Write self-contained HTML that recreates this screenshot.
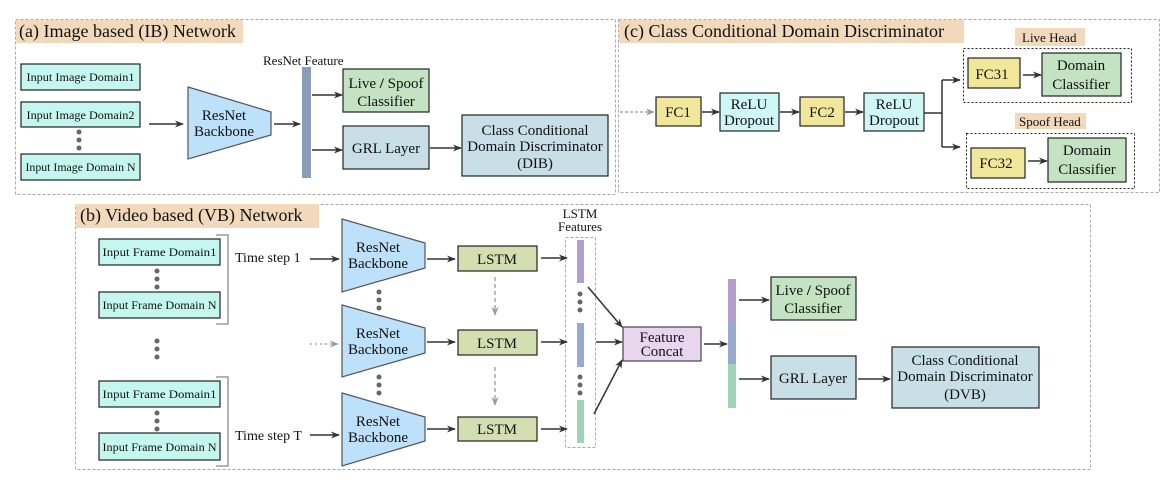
<!DOCTYPE html>
<html><head><meta charset="utf-8"><style>
html,body{margin:0;padding:0;background:#fff;}
svg{display:block;font-family:"Liberation Serif",serif;}
</style></head><body>
<svg width="1167" height="486" viewBox="0 0 1167 486" xmlns="http://www.w3.org/2000/svg">
<defs>
<marker id="a" viewBox="0 0 10 10" refX="9" refY="5" markerWidth="9" markerHeight="9" markerUnits="userSpaceOnUse" orient="auto"><path d="M0,1 L10,5 L0,9 L3,5 Z" fill="#333"/></marker>
<marker id="g" viewBox="0 0 10 10" refX="9" refY="5" markerWidth="9" markerHeight="9" markerUnits="userSpaceOnUse" orient="auto"><path d="M0,1 L10,5 L0,9 L3,5 Z" fill="#999"/></marker>
</defs>
<g stroke="#aaa" stroke-dasharray="3,2" fill="none" stroke-width="1">
<rect x="15.5" y="19.5" width="600" height="175"/>
<rect x="618.5" y="19.5" width="541" height="173"/>
<rect x="75.5" y="204.5" width="1015" height="265"/>
</g>
<g fill="#f2d9bc">
<rect x="16" y="20" width="227" height="23"/>
<rect x="619" y="20" width="345" height="23"/>
<rect x="76" y="204" width="243" height="24"/>
<rect x="1015" y="28" width="70" height="18"/>
<rect x="1015" y="113" width="71" height="16"/>
</g>
<g font-size="18" fill="#111">
<text x="19" y="37">(a) Image based (IB) Network</text>
<text x="624" y="37">(c) Class Conditional  Domain Discriminator</text>
<text x="80" y="221">(b) Video based (VB) Network</text>
</g>
<g font-size="13" fill="#111">
<text x="1022" y="42">Live Head</text>
<text x="1019" y="126">Spoof Head</text>
<text x="263" y="65" font-size="13">ResNet Feature</text>
<text x="580" y="218" text-anchor="middle">LSTM</text>
<text x="580" y="231" text-anchor="middle">Features</text>
<text x="235" y="262" font-size="14">Time step 1</text>
<text x="235" y="440" font-size="14">Time step T</text>
</g>
<!-- panel a -->
<g stroke="#222" stroke-width="1.2">
<rect x="21" y="64" width="119" height="26" fill="#c4f7ef"/>
<rect x="21" y="102" width="119" height="25" fill="#c4f7ef"/>
<rect x="21" y="154" width="119" height="26" fill="#c4f7ef"/>
<polygon points="188,87 271,112 271,135 188,159" fill="#bde0fb" stroke="#555"/>
<rect x="343" y="69" width="86" height="43" fill="#c3e3c3"/>
<rect x="343" y="126" width="86" height="43" fill="#c8dfe8"/>
<rect x="462" y="115" width="146" height="61" fill="#c8dfe8"/>
</g>
<rect x="302" y="67" width="9" height="111" fill="#8b9dba"/>
<g fill="#666"><circle cx="79" cy="132" r="2.5"/><circle cx="79" cy="140" r="2.5"/><circle cx="79" cy="148" r="2.5"/></g>
<g font-size="12" fill="#111" text-anchor="middle">
<text x="80.5" y="81" textLength="108" lengthAdjust="spacingAndGlyphs">Input Image Domain1</text>
<text x="80.5" y="119" textLength="108" lengthAdjust="spacingAndGlyphs">Input Image Domain2</text>
<text x="80.5" y="171" textLength="110" lengthAdjust="spacingAndGlyphs">Input Image Domain N</text>
</g>
<g font-size="15" fill="#111" text-anchor="middle">
<text x="224" y="120">ResNet</text><text x="224" y="136">Backbone</text>
<text x="386" y="88">Live <tspan font-weight="bold">/</tspan> Spoof</text><text x="386" y="106">Classifier</text>
<text x="386" y="153">GRL Layer</text>
<text x="535" y="135">Class Conditional</text><text x="535" y="151">Domain Discriminator</text><text x="535" y="168">(DIB)</text>
</g>
<g stroke="#333" stroke-width="1.5" marker-end="url(#a)">
<line x1="149" y1="124" x2="183" y2="124"/>
<line x1="274" y1="124" x2="300" y2="124"/>
<line x1="312" y1="95" x2="342" y2="95"/>
<line x1="312" y1="150" x2="342" y2="150"/>
<line x1="430" y1="148" x2="461" y2="148"/>
</g>
<!-- panel c -->
<g stroke="#222" stroke-width="1.2">
<rect x="656" y="97" width="45" height="29" fill="#f0e79a"/>
<rect x="720" y="93" width="59" height="38" fill="#cff7f7"/>
<rect x="800" y="97" width="44" height="29" fill="#f0e79a"/>
<rect x="864" y="93" width="60" height="38" fill="#cff7f7"/>
<rect x="968" y="58" width="52" height="30" fill="#f0e79a"/>
<rect x="1042" y="53" width="79" height="43" fill="#c3e3c3"/>
<rect x="971" y="148" width="54" height="30" fill="#f0e79a"/>
<rect x="1048" y="138" width="78" height="44" fill="#c3e3c3"/>
</g>
<g stroke="#222" stroke-dasharray="2,2" fill="none">
<rect x="963.5" y="48.5" width="168" height="54"/>
<rect x="966.5" y="133.5" width="168" height="55"/>
</g>
<g font-size="15" fill="#111" text-anchor="middle">
<text x="678" y="117">FC1</text><text x="822" y="117">FC2</text>
<text x="749" y="109">ReLU</text><text x="749" y="125">Dropout</text>
<text x="894" y="109">ReLU</text><text x="894" y="125">Dropout</text>
<text x="992" y="79">FC31</text><text x="996" y="168">FC32</text>
<text x="1081" y="70">Domain</text><text x="1081" y="89">Classifier</text>
<text x="1087" y="155">Domain</text><text x="1087" y="174">Classifier</text>
</g>
<line x1="620" y1="112" x2="654" y2="112" stroke="#999" stroke-width="1.2" stroke-dasharray="3,2" marker-end="url(#g)"/>
<g stroke="#333" stroke-width="1.5" fill="none">
<line x1="702" y1="112" x2="719" y2="112" marker-end="url(#a)"/>
<line x1="780" y1="112" x2="799" y2="112" marker-end="url(#a)"/>
<line x1="845" y1="112" x2="863" y2="112" marker-end="url(#a)"/>
<polyline points="924,113 942,113"/>
<line x1="942" y1="80" x2="942" y2="147"/>
<line x1="942" y1="80" x2="960" y2="80" marker-end="url(#a)"/>
<line x1="942" y1="147" x2="960" y2="147" marker-end="url(#a)"/>
<line x1="1023" y1="75" x2="1041" y2="75" marker-end="url(#a)"/>
<line x1="1028" y1="161" x2="1047" y2="161" marker-end="url(#a)"/>
</g>
<!-- panel b -->
<g stroke="#222" stroke-width="1.2">
<rect x="99" y="239" width="121" height="26" fill="#c4f7ef"/>
<rect x="99" y="292" width="121" height="26" fill="#c4f7ef"/>
<rect x="99" y="381" width="121" height="26" fill="#c4f7ef"/>
<rect x="99" y="433" width="121" height="27" fill="#c4f7ef"/>
<polygon points="342,219 425,243 425,268 342,292" fill="#bde0fb" stroke="#555"/>
<polygon points="342,305 425,328 425,353 342,377" fill="#bde0fb" stroke="#555"/>
<polygon points="342,393 425,417 425,441 342,466" fill="#bde0fb" stroke="#555"/>
<rect x="458" y="246" width="79" height="25" fill="#d3dfb0"/>
<rect x="458" y="330" width="79" height="25" fill="#d3dfb0"/>
<rect x="458" y="417" width="79" height="24" fill="#d3dfb0"/>
<rect x="623" y="327" width="78" height="34" fill="#e8d6ee" stroke="#444"/>
<rect x="771" y="277" width="85" height="43" fill="#c3e3c3"/>
<rect x="771" y="356" width="85" height="43" fill="#c8dfe8"/>
<rect x="892" y="347" width="147" height="61" fill="#c8dfe8"/>
</g>
<g stroke="#888" fill="none" stroke-width="1.3">
<polyline points="216,235 228,235 228,324 216,324"/>
<polyline points="216,377 228,377 228,466 216,466"/>
</g>
<rect x="565.5" y="237.5" width="30" height="210" fill="none" stroke="#aaa" stroke-dasharray="3,2"/>
<rect x="577" y="240" width="7" height="43" fill="#b39fcf"/>
<rect x="577" y="323" width="7" height="44" fill="#9aa9cf"/>
<rect x="577" y="400" width="7" height="43" fill="#9fd3b8"/>
<rect x="728" y="279" width="8" height="43" fill="#b39fcf"/>
<rect x="728" y="322" width="8" height="42" fill="#9aa9cf"/>
<rect x="728" y="364" width="8" height="44" fill="#9fd3b8"/>
<g fill="#666">
<circle cx="157" cy="271" r="2.5"/><circle cx="157" cy="279" r="2.5"/><circle cx="157" cy="287" r="2.5"/>
<circle cx="157" cy="341" r="2.5"/><circle cx="157" cy="349" r="2.5"/><circle cx="157" cy="357" r="2.5"/>
<circle cx="157" cy="413" r="2.5"/><circle cx="157" cy="421" r="2.5"/><circle cx="157" cy="429" r="2.5"/>
<circle cx="379" cy="292" r="2.5"/><circle cx="379" cy="300" r="2.5"/><circle cx="379" cy="308" r="2.5"/>
<circle cx="379" cy="377" r="2.5"/><circle cx="379" cy="385" r="2.5"/><circle cx="379" cy="393" r="2.5"/>
<circle cx="580" cy="294" r="2.5"/><circle cx="580" cy="302" r="2.5"/><circle cx="580" cy="310" r="2.5"/>
<circle cx="580" cy="377" r="2.5"/><circle cx="580" cy="385" r="2.5"/><circle cx="580" cy="393" r="2.5"/>
</g>
<g font-size="12" fill="#111" text-anchor="middle">
<text x="159.5" y="256" textLength="114" lengthAdjust="spacingAndGlyphs">Input Frame Domain1</text>
<text x="159.5" y="309" textLength="114" lengthAdjust="spacingAndGlyphs">Input Frame Domain N</text>
<text x="159.5" y="398" textLength="114" lengthAdjust="spacingAndGlyphs">Input Frame Domain1</text>
<text x="159.5" y="451" textLength="114" lengthAdjust="spacingAndGlyphs">Input Frame Domain N</text>
</g>
<g font-size="15" fill="#111" text-anchor="middle">
<text x="378" y="252">ResNet</text><text x="378" y="268">Backbone</text>
<text x="378" y="338">ResNet</text><text x="378" y="354">Backbone</text>
<text x="378" y="426">ResNet</text><text x="378" y="442">Backbone</text>
<text x="497" y="264">LSTM</text><text x="497" y="348">LSTM</text><text x="497" y="434">LSTM</text>
<text x="662" y="342">Feature</text><text x="662" y="356">Concat</text>
<text x="813" y="295">Live <tspan font-weight="bold">/</tspan> Spoof</text><text x="813" y="313">Classifier</text>
<text x="813" y="383">GRL Layer</text>
<text x="965" y="365">Class Conditional</text><text x="965" y="381">Domain Discriminator</text><text x="965" y="399">(DVB)</text>
</g>
<g stroke="#333" stroke-width="1.5" marker-end="url(#a)">
<line x1="310" y1="259" x2="339" y2="259"/>
<line x1="310" y1="435" x2="339" y2="435"/>
<line x1="427" y1="259" x2="455" y2="259"/>
<line x1="427" y1="342" x2="455" y2="342"/>
<line x1="427" y1="429" x2="455" y2="429"/>
<line x1="541" y1="258" x2="567" y2="258"/>
<line x1="541" y1="342" x2="567" y2="342"/>
<line x1="541" y1="429" x2="567" y2="429"/>
<line x1="588" y1="287" x2="622" y2="327"/>
<line x1="596" y1="342" x2="622" y2="342"/>
<line x1="594" y1="414" x2="622" y2="360"/>
<line x1="704" y1="344" x2="727" y2="344"/>
<line x1="739" y1="300" x2="769" y2="300"/>
<line x1="739" y1="379" x2="769" y2="379"/>
<line x1="858" y1="379" x2="890" y2="379"/>
</g>
<g stroke="#999" stroke-width="1.3" stroke-dasharray="4,3" marker-end="url(#g)">
<line x1="495" y1="277" x2="495" y2="315"/>
<line x1="495" y1="367" x2="495" y2="405"/>
<line x1="310" y1="344" x2="338" y2="344" stroke-dasharray="2,3"/>
</g>
</svg>
</body></html>
